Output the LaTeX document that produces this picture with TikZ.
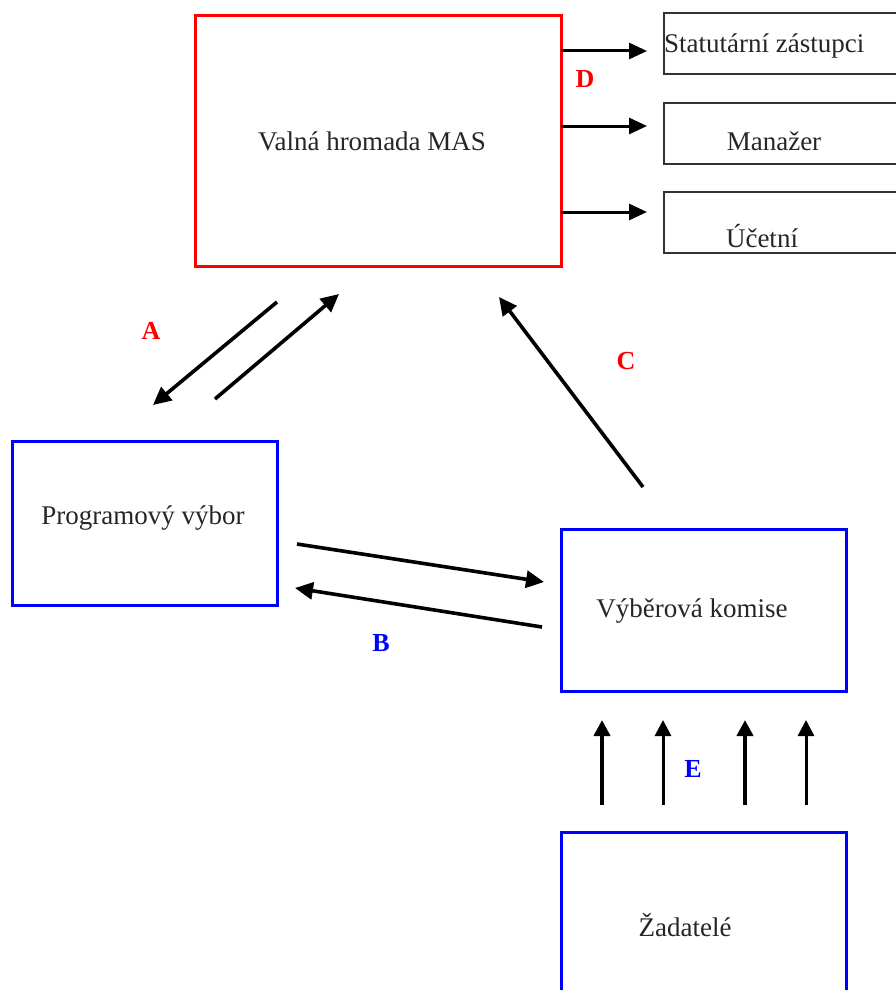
\documentclass[tikz,border=0pt]{standalone}
\usepackage{fontspec}
\setmainfont{Liberation Serif}
\usetikzlibrary{arrows.meta}
\begin{document}
\begin{tikzpicture}[x=1pt,y=-1pt,
  redbox/.style={draw=red,line width=3pt,inner sep=0pt,rectangle},
  bluebox/.style={draw=blue,line width=3pt,inner sep=0pt,rectangle},
  greybox/.style={draw=black!80,line width=1.8pt,inner sep=0pt,rectangle},
  txt/.style={font=\fontsize{27}{30}\selectfont,text=black!85,inner sep=0pt},
  lab/.style={font=\fontsize{26}{30}\selectfont\bfseries,inner sep=0pt},
  arr/.style={line width=3.6pt,-{Triangle[length=18pt,width=17pt]}},
  arrthin/.style={line width=3pt,-{Triangle[length=18pt,width=16pt]}}]
\useasboundingbox (0,0) rectangle (896,990);
\clip (0,0) rectangle (896,990);
% boxes
\draw[redbox] (195,16) rectangle (561,266);
\node[txt] (vh) at (372,141) {Valná hromada MAS};
\coordinate (vhE1) at (561,51);
\coordinate (vhE2) at (561,126);
\coordinate (vhE3) at (561,212);
\draw[greybox] (664,13) rectangle (920,74);
\draw[greybox] (664,103) rectangle (920,164);
\draw[greybox] (664,192) rectangle (920,253);
\node[txt,anchor=west] (st) at (664,46) {Statutární zástupci};
\node[txt] (man) at (774,141) {Manažer};
\node[txt] (uc) at (762,236) {Účetní};
\coordinate (stT) at (647,51);
\coordinate (manT) at (647,126);
\coordinate (ucT) at (647,212);
\draw[bluebox] (12,441) rectangle (277,605);
\node[txt] (pv) at (143,518) {Programový výbor};
\draw[bluebox] (561,529) rectangle (846,691);
\node[txt] (vk) at (692,611) {Výběrová komise};
\draw[bluebox] (561,832) rectangle (846,1010);
\node[txt] (za) at (685,925) {Žadatelé};
% D arrows
\draw[arrthin] (vhE1) -- (stT);
\draw[arrthin] (vhE2) -- (manT);
\draw[arrthin] (vhE3) -- (ucT);
\node[lab,text=red] (D) at (585,79) {D};
% A arrows
\coordinate (a1s) at (277,302); \coordinate (a1e) at (153,405);
\coordinate (a2s) at (215,399); \coordinate (a2e) at (339,294);
\draw[arr] (a1s) -- (a1e);
\draw[arr] (a2s) -- (a2e);
\node[lab,text=red] (A) at (151,331) {A};
% C arrow
\coordinate (cs) at (643,487); \coordinate (ce) at (499,297);
\draw[arr] (cs) -- (ce);
\node[lab,text=red] (C) at (626,361) {C};
% B arrows
\coordinate (b1s) at (297,544); \coordinate (b1e) at (544,582);
\coordinate (b2s) at (542,627); \coordinate (b2e) at (295,588);
\draw[arr] (b1s) -- (b1e);
\draw[arr] (b2s) -- (b2e);
\node[lab,text=blue] (B) at (381,643) {B};
% E arrows
\foreach \x/\w in {602/4.2,663/3,745/4.2,806/3}{
  \draw[line width=\w pt,-{Triangle[length=16pt,width=16pt]}] (\x,805) -- (\x,720);
}
\node[lab,text=blue] (E) at (693,769) {E};
\end{tikzpicture}
\end{document}
